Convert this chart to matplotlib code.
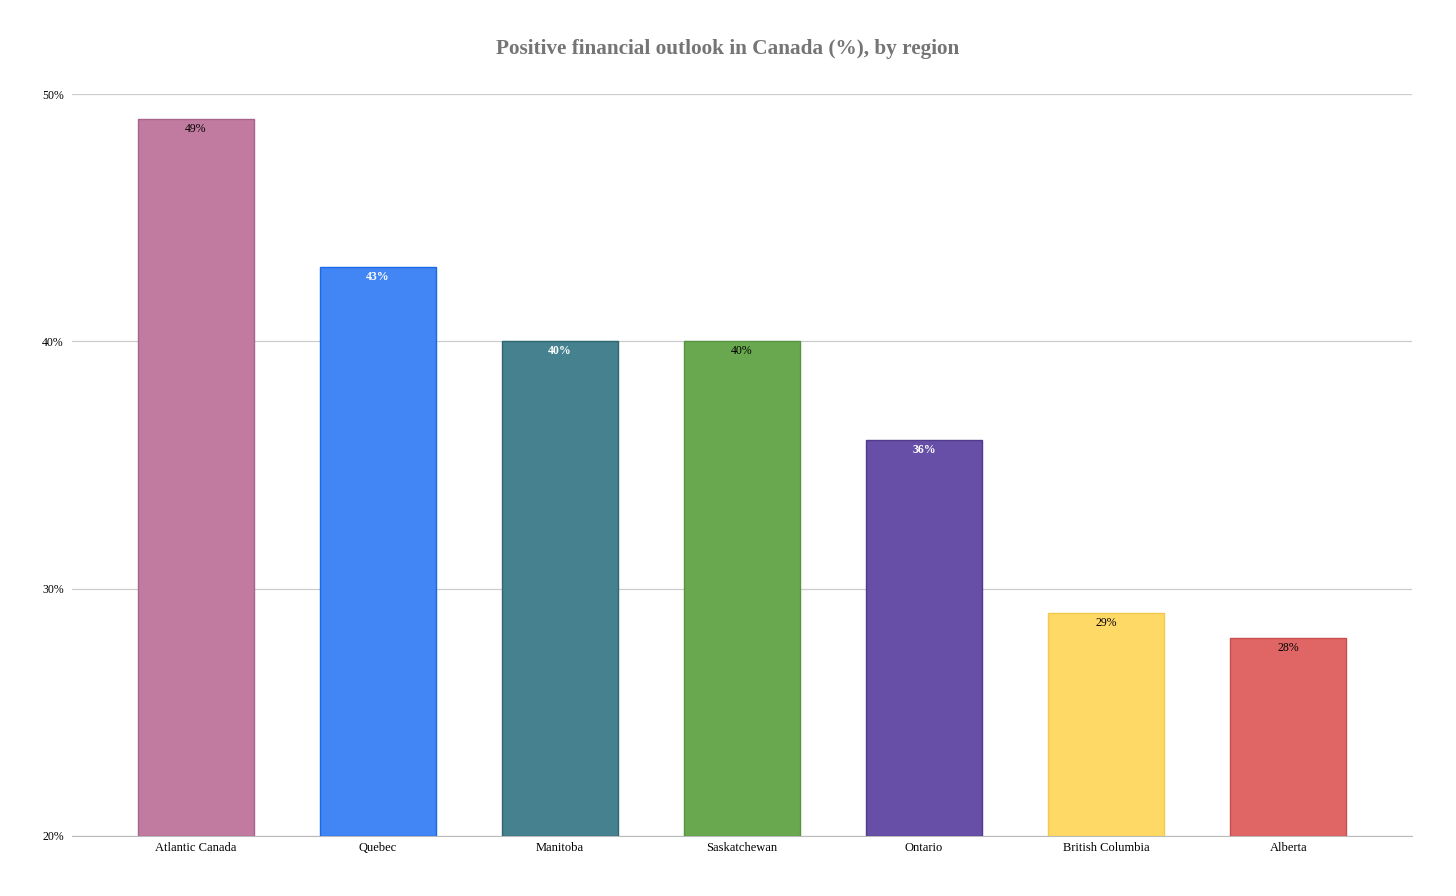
import matplotlib.pyplot as plt

regions = ["Atlantic Canada", "Quebec", "Manitoba", "Saskatchewan",
           "Ontario", "British Columbia", "Alberta"]
values = [49, 43, 40, 40, 36, 29, 28]
colors = ["#c27ba0", "#4285f4", "#45818e", "#6aa84f", "#674ea7", "#ffd966", "#e06666"]
edges = ["#a8638a", "#1a6ae6", "#2f6772", "#58943e", "#4f3a8c", "#f2c94c", "#c94f4f"]
label_colors = ["black", "white", "white", "black", "white", "black", "black"]
yticks = [20, 30, 40, 50]

plt.rcParams['font.family'] = ['Liberation Serif', 'DejaVu Serif']

fig = plt.figure(figsize=(14.56, 8.96), dpi=100)
ax = fig.add_axes([0.0495, 0.067, 0.9203, 0.828])

x = list(range(len(regions)))
bars = ax.bar(x, [v - 20 for v in values], bottom=20, width=0.64,
              color=colors, edgecolor=edges, linewidth=1, zorder=3)

# value labels just inside the top of each bar
for i, v in enumerate(values):
    ax.annotate(f"{v}%", (x[i], v), xytext=(0, -7), textcoords="offset points",
                ha="center", va="center", fontsize=8.5, color=label_colors[i],
                fontweight="bold" if label_colors[i] == "white" else "normal", zorder=4)

ax.set_xlim(-0.68, len(regions) - 1 + 0.68)
ax.set_ylim(20, 50)
ax.set_yticks(yticks)
ax.set_yticklabels([f"{t}%" for t in yticks], fontsize=8.5)
ax.set_xticks(x)
ax.set_xticklabels(regions, fontsize=9)
ax.tick_params(axis="x", length=0, pad=4)
ax.tick_params(axis="y", length=0, pad=6)
ax.grid(axis="y", color="#cccccc", linewidth=0.9, zorder=0)
for s in ["top", "right", "left"]:
    ax.spines[s].set_visible(False)
ax.spines["bottom"].set_color("#bbbbbb")

fig.text(0.5, 0.945, "Positive financial outlook in Canada (%), by region",
         ha="center", va="center", fontsize=15.3, fontweight="bold", color="#757575")

fig.savefig("out.png", dpi=100, facecolor="white")
